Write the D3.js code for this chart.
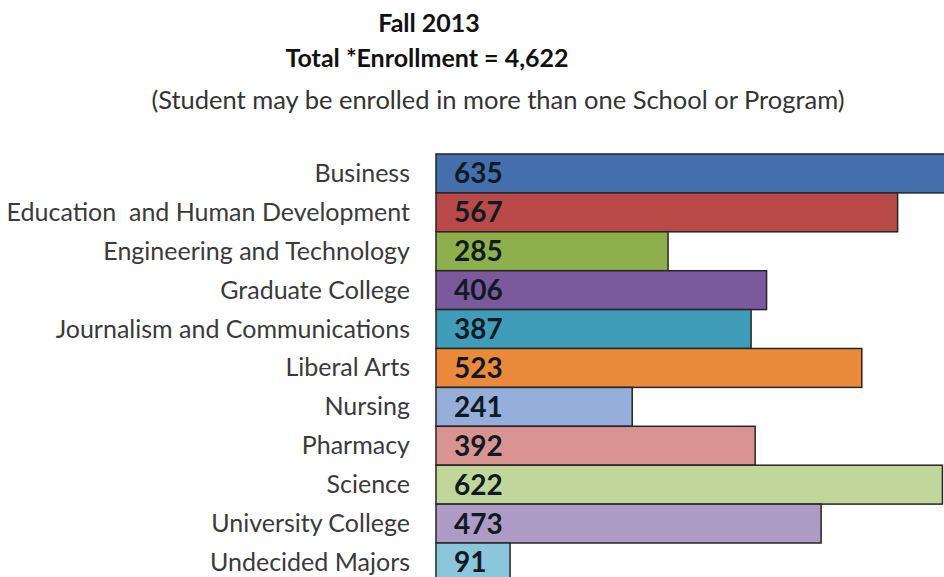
<!DOCTYPE html>
<html lang="en">
<head>
    <meta charset="UTF-8">
    <title>Fall 2013 Enrollment</title>
    <style>
        body { margin: 0; background: #ffffff; overflow: hidden; }
        svg { display: block; }
        .title { font-family: Lato, sans-serif; font-weight: 700; fill: #111111; text-anchor: middle; }
        .subtitle { font-family: Lato, sans-serif; fill: #333333; text-anchor: middle; }
        .cat-label { font-family: Lato, sans-serif; fill: #3a3a3a; text-anchor: end; }
        .bar { stroke: #262626; stroke-width: 1.5px; }
        .value-label { font-family: Lato, sans-serif; font-weight: 700; fill: #111a22; }
    </style>
</head>
<body>
<script src="https://d3js.org/d3.v7.min.js"></script>
<script>
    // chart data
    const categories = [
        "Business",
        "Education  and Human Development",
        "Engineering and Technology",
        "Graduate College",
        "Journalism and Communications",
        "Liberal Arts",
        "Nursing",
        "Pharmacy",
        "Science",
        "University College",
        "Undecided Majors"
    ];
    const enrollment = [635, 567, 285, 406, 387, 523, 241, 392, 622, 473, 91];
    const barColors = [
        "#4370ac", "#b94a48", "#8db04c", "#7a5a9c", "#3f9dba", "#ec8a3c",
        "#95afda", "#d99492", "#c0d69a", "#ad9bc5", "#8cc6dc"
    ];
    const titleLines = ["Fall 2013", "Total *Enrollment = 4,622"];
    const subtitle = "(Student may be enrolled in more than one School or Program)";

    const width = 944, height = 577;

    const svg = d3.select("body").append("svg")
        .attr("width", width)
        .attr("height", height);

    // titles
    svg.append("text").attr("class", "title")
        .attr("x", 429).attr("y", 32)
        .style("font-size", "25px")
        .text(titleLines[0]);
    svg.append("text").attr("class", "title")
        .attr("x", 427).attr("y", 67)
        .style("font-size", "25px")
        .text(titleLines[1]);
    svg.append("text").attr("class", "subtitle")
        .attr("x", 498).attr("y", 109)
        .style("font-size", "25.5px")
        .text(subtitle);

    // scales
    const x = d3.scaleLinear()
        .domain([0, 635])
        .range([436, 953]);

    const y = d3.scaleBand()
        .domain(categories)
        .range([154, 154 + 38.9 * categories.length])
        .padding(0);

    const rows = categories.map((c, i) => ({ name: c, value: enrollment[i], color: barColors[i] }));

    // bars
    svg.selectAll(".bar")
        .data(rows)
        .enter().append("rect")
        .attr("class", "bar")
        .attr("x", x(0))
        .attr("y", d => y(d.name))
        .attr("width", d => x(d.value) - x(0))
        .attr("height", y.bandwidth())
        .style("fill", d => d.color);

    // value labels inside bars
    svg.selectAll(".value-label")
        .data(rows)
        .enter().append("text")
        .attr("class", "value-label")
        .attr("x", x(0) + 18)
        .attr("y", d => y(d.name) + y.bandwidth() / 2 + 10)
        .style("font-size", "28px")
        .text(d => d.value);

    // category labels
    svg.selectAll(".cat-label")
        .data(rows)
        .enter().append("text")
        .attr("class", "cat-label")
        .attr("x", 410)
        .attr("y", d => y(d.name) + y.bandwidth() / 2 + 8.5)
        .style("font-size", "25px")
        .style("white-space", "pre")
        .text(d => d.name);
</script>
</body>
</html>
